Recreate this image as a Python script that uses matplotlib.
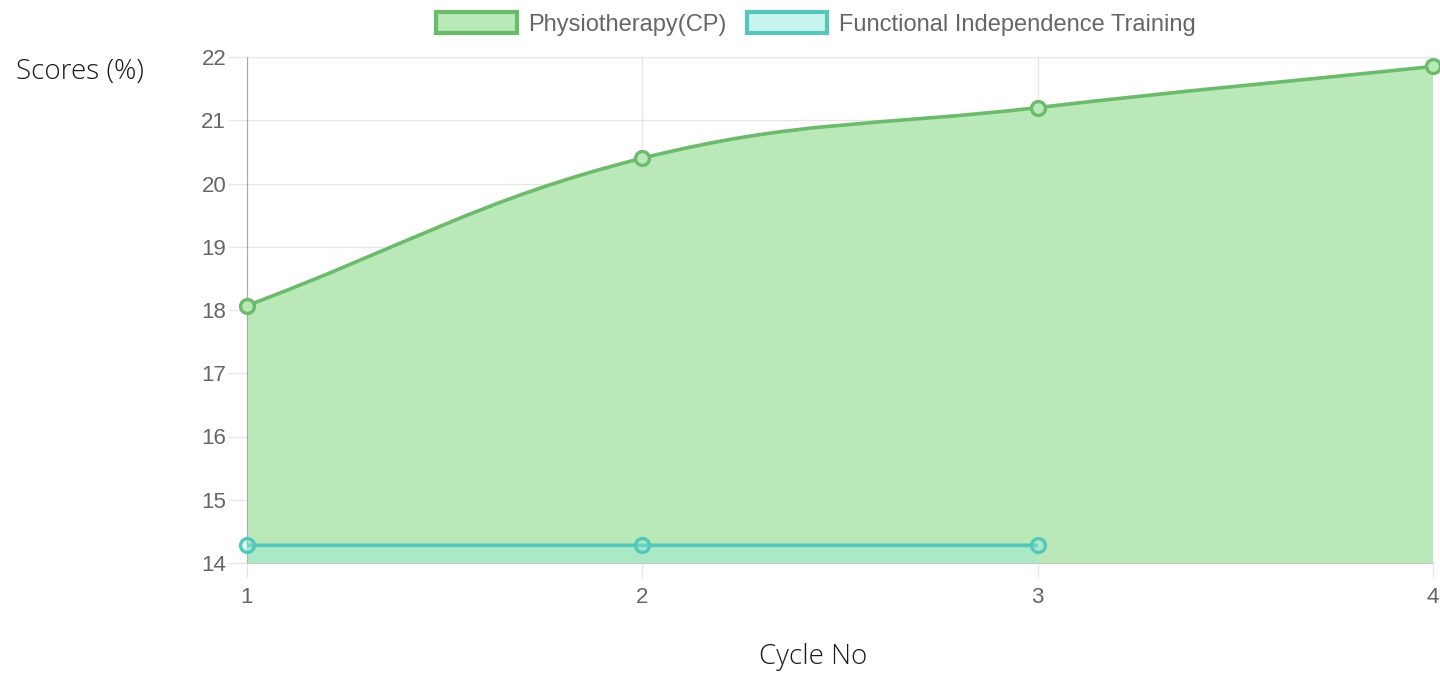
import numpy as np
import matplotlib
matplotlib.use("Agg")
import matplotlib.pyplot as plt
from matplotlib.patches import Patch
from matplotlib.path import Path
from matplotlib.patches import PathPatch

cycles = [1, 2, 3, 4]
physio = [18.07, 20.40, 21.20, 21.85]
fit_cycles = [1, 2, 3]
fit = [14.28, 14.28, 14.28]
labels = ["Physiotherapy(CP)", "Functional Independence Training"]

W, H = 1440, 684
fig = plt.figure(figsize=(W / 100, H / 100), dpi=100)
ax = fig.add_axes([247 / W, (H - 563) / H, (1433 - 247) / W, (563 - 57) / H])
ax.set_xlim(1, 4)
ax.set_ylim(14, 22)

xs_px = (1433 - 247) / 3.0
ys_px = (563 - 57) / 8.0


def spline_path(x, y, tension=0.4):
    # chart.js style bezier control points, computed in pixel space
    px = np.array(x, float) * xs_px
    py = np.array(y, float) * ys_px
    n = len(px)
    verts = [(x[0], y[0])]
    codes = [Path.MOVETO]
    cps = []
    for i in range(n):
        p0 = i - 1 if i > 0 else i
        p2 = i + 1 if i < n - 1 else i
        d01 = np.hypot(px[i] - px[p0], py[i] - py[p0])
        d12 = np.hypot(px[p2] - px[i], py[p2] - py[i])
        tot = d01 + d12
        s01 = d01 / tot if tot else 0
        s12 = d12 / tot if tot else 0
        fa, fb = tension * s01, tension * s12
        dx, dy = px[p2] - px[p0], py[p2] - py[p0]
        prev = (px[i] - fa * dx, py[i] - fa * dy)
        nxt = (px[i] + fb * dx, py[i] + fb * dy)
        cps.append((prev, nxt))
    for i in range(n - 1):
        c1 = cps[i][1]
        c2 = cps[i + 1][0]
        verts += [(c1[0] / xs_px, min(c1[1] / ys_px, 22)),
                  (c2[0] / xs_px, min(c2[1] / ys_px, 22)),
                  (x[i + 1], y[i + 1])]
        codes += [Path.CURVE4] * 3
    return verts, codes


green_line = "#6cbb6c"
green_fill = "#b9e8b9"
cyan_line = "#55c7b9"
cyan_fill = (0.55, 0.92, 0.88, 0.35)

for xv, yv, lc, fc, z in [(cycles, physio, green_line, green_fill, 2),
                          (fit_cycles, fit, cyan_line, cyan_fill, 3)]:
    verts, codes = spline_path(xv, yv)
    fverts = verts + [(xv[-1], 14), (xv[0], 14), (xv[0], yv[0])]
    fcodes = codes + [Path.LINETO, Path.LINETO, Path.CLOSEPOLY]
    ax.add_patch(PathPatch(Path(fverts, fcodes), facecolor=fc, edgecolor="none", zorder=z))
    ax.add_patch(PathPatch(Path(verts, codes), facecolor="none", edgecolor=lc, lw=2.6, zorder=z + 0.5))
    ax.plot(xv, yv, "o", ms=10, mfc=fc if z == 3 else green_fill, mec=lc, mew=2.4,
            clip_on=False, zorder=z + 1)

ax.set_xticks(cycles)
ax.set_yticks(range(14, 23))
ax.grid(True, color="#e6e6e6", lw=1)
ax.set_axisbelow(True)
for s in ["top", "right"]:
    ax.spines[s].set_visible(False)
ax.spines["left"].set_color("#a8a8a8")
ax.spines["bottom"].set_color("#c8c8c8")
ax.tick_params(axis="both", colors="#e6e6e6", labelcolor="#666666", labelsize=16,
               width=1, labelfontfamily="Liberation Sans")
ax.tick_params(axis="y", length=14, pad=1)
ax.tick_params(axis="x", length=11, pad=6)

fig.text(16 / W, 1 - 72 / H, "Scores (%)", fontsize=20, family="Open Sans",
         weight="light", color="#1a1a1a", ha="left", va="center")
fig.text(813 / W, 1 - 657 / H, "Cycle No", fontsize=20, family="Open Sans",
         weight="light", color="#1a1a1a", ha="center", va="center")

handles = [Patch(facecolor=green_fill, edgecolor=green_line, lw=3),
           Patch(facecolor="#c8f5f0", edgecolor=cyan_line, lw=3)]
leg = fig.legend(handles, labels, loc="center", bbox_to_anchor=(816 / W, 1 - 24 / H),
                 ncol=2, frameon=False, prop={"family": "Liberation Sans", "size": 17},
                 handlelength=3.4, handleheight=0.95, columnspacing=0.85, handletextpad=0.5)
for t in leg.get_texts():
    t.set_color("#666666")

fig.savefig("out.png", dpi=100)
